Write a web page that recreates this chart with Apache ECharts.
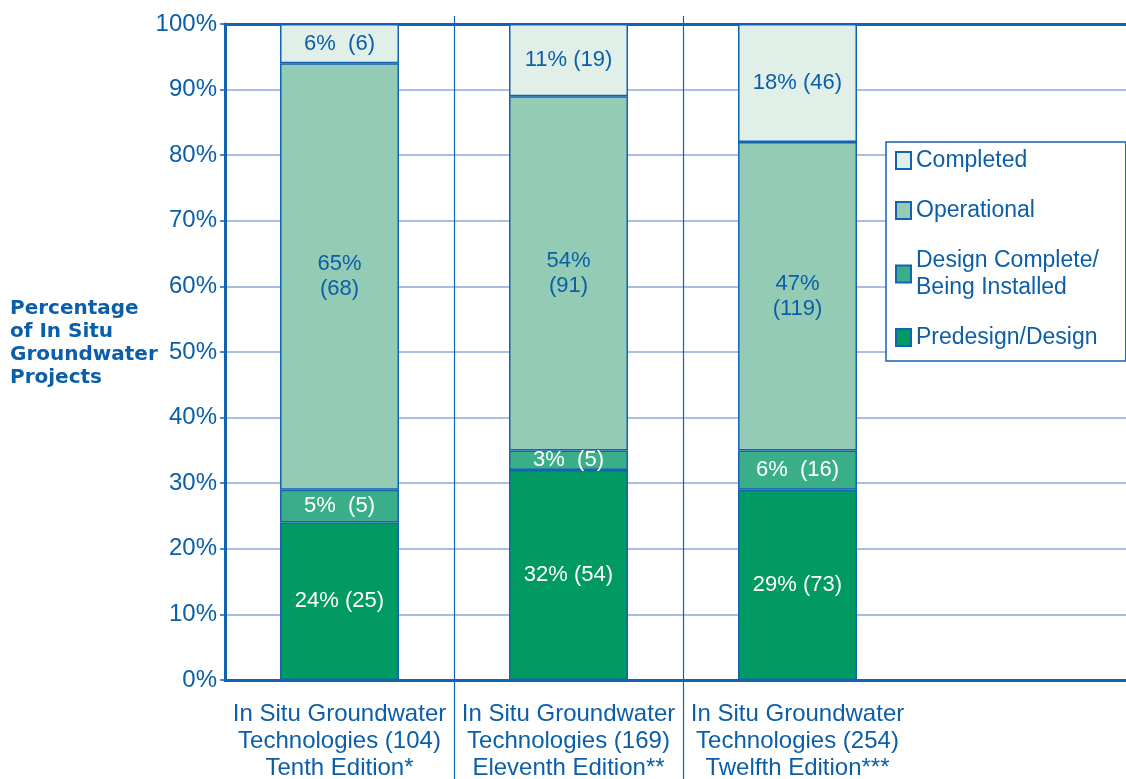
<!DOCTYPE html>
<html>
<head>
<meta charset="utf-8">
<script src="https://cdn.jsdelivr.net/npm/echarts@6/dist/echarts.min.js"></script>
<style>
  html, body { margin: 0; padding: 0; background: #fff; }
  #chart { width: 1126px; height: 779px; }
</style>
</head>
<body>
<div id="chart"></div>
<script>
// editions (4th slot is empty space to the right, under the legend)
const categories = [
  'In Situ Groundwater\nTechnologies (104)\nTenth Edition*',
  'In Situ Groundwater\nTechnologies (169)\nEleventh Edition**',
  'In Situ Groundwater\nTechnologies (254)\nTwelfth Edition***',
  ''
]
// percent of projects / number of projects per status
const predesignPct = [24, 32, 29]
const predesignNum = [25, 54, 73]
const designPct = [5, 3, 6]
const designNum = [5, 5, 16]
const operationalPct = [65, 54, 47]
const operationalNum = [68, 91, 119]
const completedPct = [6, 11, 18]
const completedNum = [6, 19, 46]
const yTicks = [0, 10, 20, 30, 40, 50, 60, 70, 80, 90, 100]

const BLUE = '#0b5ea8'
const LINE = '#1463b0'
const GRID = '#8fa9d9'
const FONT = '"Liberation Sans", Arial, sans-serif'

const myecharts = echarts.init(document.getElementById('chart'))

// separators only between editions
const sepInterval = function (index) { return index === 1 || index === 2 }

function makeSeries(name, pct, num, color, labelColor, twoLines) {
  return {
    name: name,
    type: 'bar',
    stack: 'all',
    xAxisIndex: 2,
    yAxisIndex: 1,
    barWidth: 119,
    z: 3,
    itemStyle: { color: color, borderColor: LINE, borderWidth: 1.5 },
    label: {
      show: true,
      position: 'inside',
      color: labelColor,
      fontFamily: FONT,
      fontSize: 22,
      lineHeight: 25,
      formatter: function (p) {
        let i = p.dataIndex
        if (twoLines) return pct[i] + '%\n(' + num[i] + ')'
        return pct[i] + '%' + (pct[i] < 10 ? '  ' : ' ') + '(' + num[i] + ')'
      }
    },
    data: pct
  }
}

const option = {
  animation: false,
  backgroundColor: '#fff',
  title: {
    text: 'Percentage\nof In Situ\nGroundwater\nProjects',
    left: 10,
    top: 297,
    padding: 0,
    textStyle: { color: BLUE, fontFamily: '"DejaVu Sans", sans-serif', fontWeight: 'bold', fontSize: 20, lineHeight: 23 }
  },
  legend: {
    orient: 'vertical',
    left: 886,
    top: 142,
    backgroundColor: '#fff',
    borderColor: LINE,
    borderWidth: 1.5,
    borderRadius: 0,
    padding: [5, 27, 10, 9],
    itemGap: 23,
    itemWidth: 15,
    itemHeight: 17,
    icon: 'rect',
    selectedMode: false,
    textStyle: { color: BLUE, fontFamily: FONT, fontSize: 23, lineHeight: 27 },
    data: ['Completed', 'Operational', 'Design Complete/\nBeing Installed', 'Predesign/Design']
  },
  grid: [
    { left: 225, right: 0, top: 24, bottom: 99, outerBoundsMode: 'none' },
    { left: 225, width: 916, top: 24, bottom: 99, outerBoundsMode: 'none' }
  ],
  xAxis: [
    {
      gridIndex: 0, type: 'category', data: [''], position: 'bottom',
      axisLine: { lineStyle: { color: LINE, width: 3 } },
      axisTick: { show: false }, axisLabel: { show: false }
    },
    {
      gridIndex: 0, type: 'category', data: [''], position: 'top',
      axisLine: { lineStyle: { color: LINE, width: 3 } },
      axisTick: { show: false }, axisLabel: { show: false }
    },
    {
      gridIndex: 1, type: 'category', data: categories, position: 'bottom',
      axisLine: { show: false },
      axisTick: { show: true, length: 99, interval: sepInterval, lineStyle: { color: LINE, width: 1.2 } },
      splitLine: { show: true, interval: sepInterval, lineStyle: { color: LINE, width: 1.2 } },
      axisLabel: {
        interval: 0, margin: 21, color: BLUE, fontFamily: FONT, fontSize: 24, lineHeight: 27
      }
    },
    {
      gridIndex: 1, type: 'category', data: categories, position: 'top',
      axisLine: { show: false },
      axisTick: { show: true, length: 8, interval: sepInterval, lineStyle: { color: LINE, width: 1.2 } },
      axisLabel: { show: false }
    }
  ],
  yAxis: [
    {
      gridIndex: 0, type: 'value', min: yTicks[0], max: yTicks[yTicks.length - 1], interval: 10,
      axisLine: { show: true, lineStyle: { color: LINE, width: 3 } },
      axisTick: { show: true, length: 5, lineStyle: { color: LINE, width: 1.5 } },
      splitLine: { show: true, lineStyle: { color: GRID, width: 1.5 } },
      axisLabel: { formatter: '{value}%', margin: 8, color: BLUE, fontFamily: FONT, fontSize: 24 }
    },
    {
      gridIndex: 1, type: 'value', min: 0, max: 100, show: false,
      splitLine: { show: false }
    }
  ],
  series: [
    makeSeries('Predesign/Design', predesignPct, predesignNum, '#009a62', '#ffffff', false),
    makeSeries('Design Complete/\nBeing Installed', designPct, designNum, '#3aae88', '#ffffff', false),
    makeSeries('Operational', operationalPct, operationalNum, '#94cbb4', BLUE, true),
    makeSeries('Completed', completedPct, completedNum, '#e0efe8', BLUE, false)
  ]
}

myecharts.setOption(option)
</script>
</body>
</html>
